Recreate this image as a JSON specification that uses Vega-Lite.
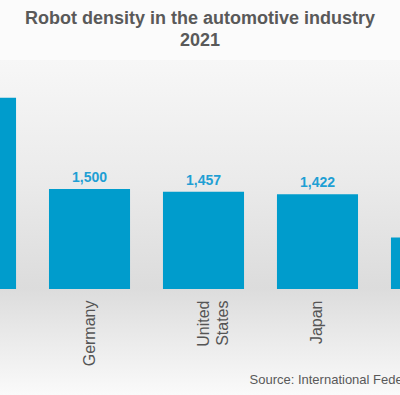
{
  "$schema": "https://vega.github.io/schema/vega-lite/v6.json",
  "autosize": {"type": "none"},
  "width": 400,
  "height": 335,
  "padding": {"left": 0, "right": 0, "top": 60, "bottom": 0},
  "background": "#fbfbfb",
  "title": {
    "text": ["Robot density in the automotive industry", "2021"],
    "font": "Liberation Sans",
    "fontSize": 18,
    "fontWeight": "bold",
    "color": "#595959",
    "lineHeight": 22,
    "anchor": "middle",
    "offset": 10
  },
  "config": {
    "view": {
      "stroke": null,
      "fill": {
        "gradient": "linear",
        "x1": 0, "y1": 0, "x2": 0, "y2": 1,
        "stops": [
          {"offset": 0, "color": "#f7f7f7"},
          {"offset": 0.35, "color": "#ebebeb"},
          {"offset": 0.68, "color": "#dcdcdc"},
          {"offset": 0.85, "color": "#ececec"},
          {"offset": 1, "color": "#fafafa"}
        ]
      }
    }
  },
  "data": {
    "values": [
      {"country": "Korea", "density": 2867},
      {"country": "Germany", "density": 1500},
      {"country": "United States", "density": 1457},
      {"country": "Japan", "density": 1422},
      {"country": "China", "density": 772}
    ]
  },
  "encoding": {
    "x": {
      "field": "country",
      "type": "nominal",
      "sort": null,
      "scale": {"range": [-81.5, 488.5], "paddingInner": 0.289, "paddingOuter": 0.1447},
      "axis": {
        "orient": "bottom",
        "offset": -106,
        "domain": false,
        "ticks": false,
        "grid": false,
        "labelAngle": -90,
        "labelAlign": "right",
        "labelBaseline": "middle",
        "labelPadding": 11,
        "labelFont": "Liberation Sans",
        "labelFontSize": 16,
        "labelColor": "#555555",
        "labelLineHeight": 19,
        "labelOverlap": false,
        "labelExpr": "datum.value == 'United States' ? ['United', 'States'] : datum.label",
        "title": "Source: International Federation of Robotics",
        "titleFont": "Liberation Sans",
        "titleFontSize": 13,
        "titleFontWeight": "normal",
        "titleColor": "#595959",
        "titleAnchor": "start",
        "titleAlign": "left",
        "titleBaseline": "middle",
        "titleX": 249,
        "titleY": 90
      }
    },
    "y": {
      "field": "density",
      "type": "quantitative",
      "scale": {"domain": [0, 3000], "range": [229, 29]},
      "axis": null
    }
  },
  "layer": [
    {"mark": {"type": "bar", "color": "#009ccc"}},
    {
      "mark": {
        "type": "text",
        "font": "Liberation Sans",
        "fontSize": 14,
        "fontWeight": "bold",
        "color": "#1f9fd4",
        "baseline": "alphabetic",
        "dy": -7
      },
      "encoding": {"text": {"field": "density", "type": "quantitative", "format": ","}}
    }
  ]
}
